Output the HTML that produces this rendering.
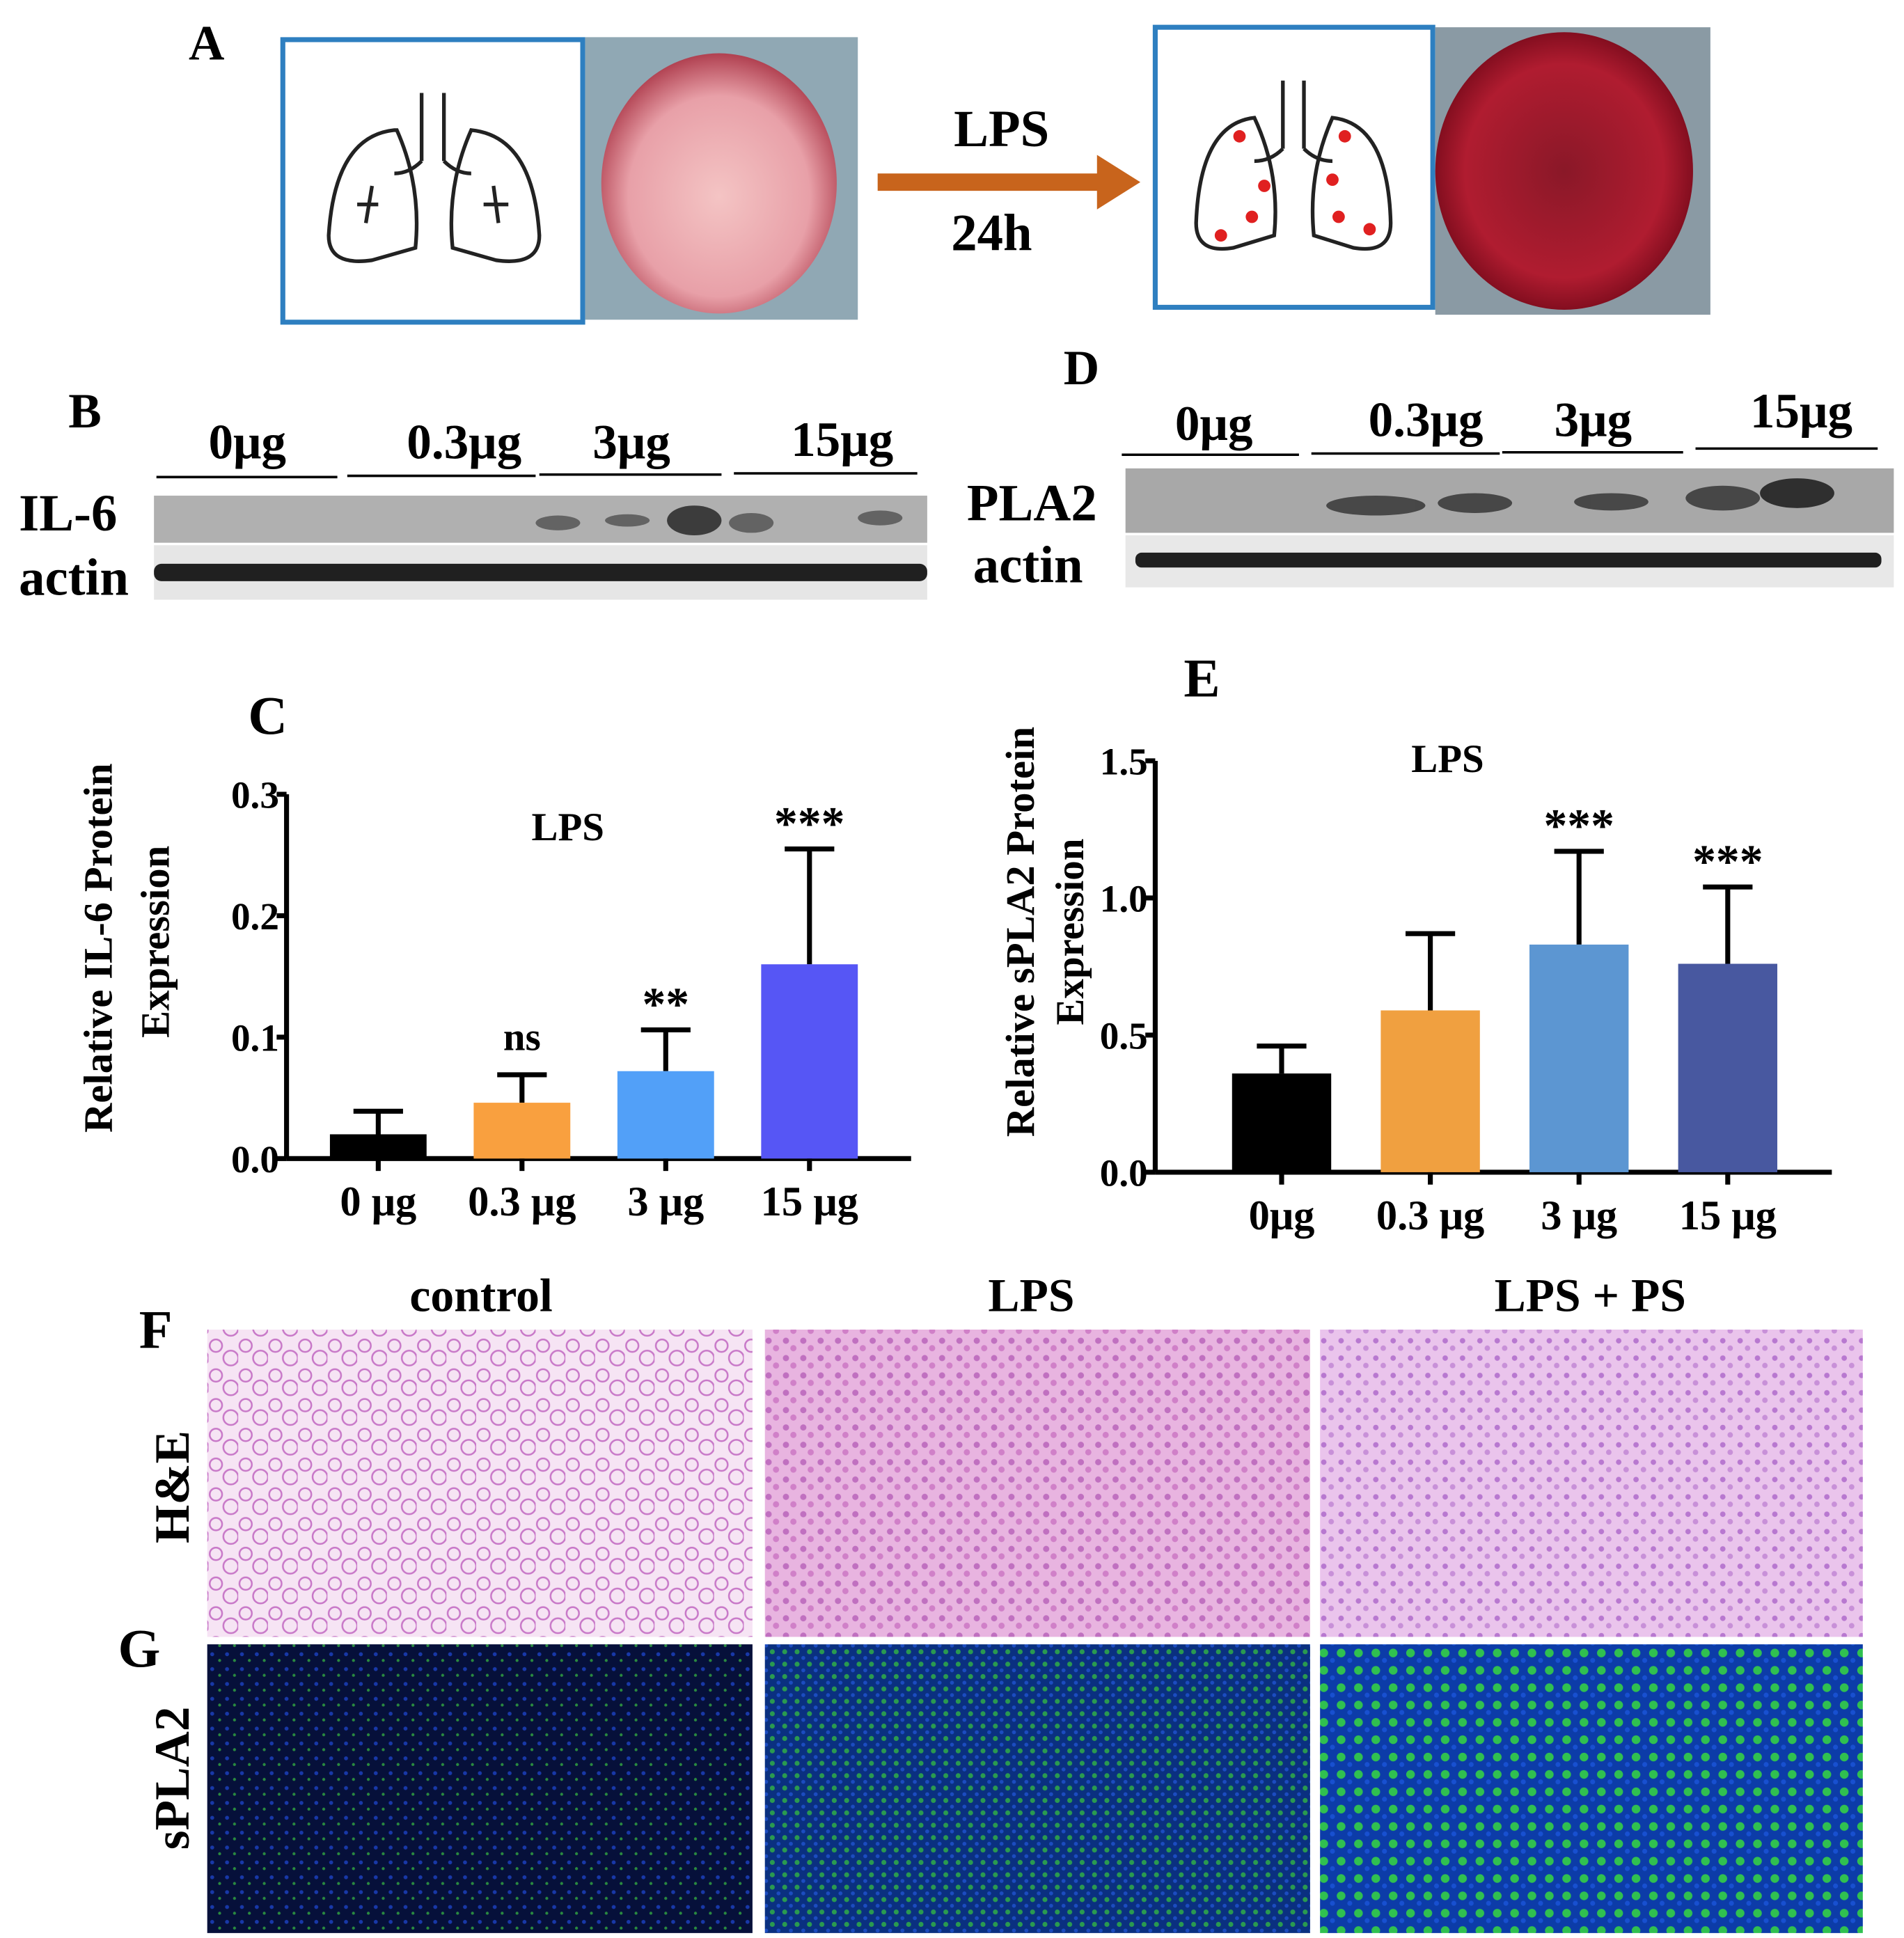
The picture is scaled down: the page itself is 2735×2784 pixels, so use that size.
<!DOCTYPE html>
<html><head><meta charset="utf-8"><style>
html,body{margin:0;padding:0;background:#fff;}
svg{display:block;}
svg text{font-family:"Liberation Serif","DejaVu Serif",serif;font-weight:bold;}
</style></head><body>
<svg id="fig" width="2735" height="2784" viewBox="0 0 1536 1564" xmlns="http://www.w3.org/2000/svg">
<defs>
<radialGradient id="lung1" cx="50%" cy="55%" r="55%"><stop offset="0" stop-color="#f4c4c4"/><stop offset="0.7" stop-color="#e8a0a8"/><stop offset="1" stop-color="#b04050"/></radialGradient>
<radialGradient id="lung2" cx="50%" cy="50%" r="55%"><stop offset="0" stop-color="#8a1828"/><stop offset="0.7" stop-color="#b01c30"/><stop offset="1" stop-color="#700818"/></radialGradient>
<pattern id="he1" width="24" height="24" patternUnits="userSpaceOnUse"><rect width="24" height="24" fill="#f6e4f4"/><circle cx="6" cy="6" r="5" fill="none" stroke="#c878c8" stroke-width="1.4"/><circle cx="18" cy="16" r="6" fill="none" stroke="#c878c8" stroke-width="1.4"/></pattern>
<pattern id="he2" width="14" height="14" patternUnits="userSpaceOnUse"><rect width="14" height="14" fill="#e8b4e0"/><circle cx="4" cy="4" r="2.5" fill="#c070c0"/><circle cx="10" cy="10" r="2.5" fill="#d080c8"/></pattern>
<pattern id="he3" width="14" height="14" patternUnits="userSpaceOnUse"><rect width="14" height="14" fill="#eac4ec"/><circle cx="4" cy="4" r="2.2" fill="#b878d0"/><circle cx="10" cy="10" r="2.2" fill="#c890d8"/></pattern>
<pattern id="fl1" width="12" height="12" patternUnits="userSpaceOnUse"><rect width="12" height="12" fill="#06103a"/><circle cx="3" cy="3" r="1.6" fill="#1838a8"/><circle cx="9" cy="8" r="1.2" fill="#2a8a40"/></pattern>
<pattern id="fl2" width="10" height="10" patternUnits="userSpaceOnUse"><rect width="10" height="10" fill="#0a3080"/><circle cx="3" cy="3" r="2" fill="#2a9a50"/><circle cx="8" cy="8" r="1.6" fill="#1c4cc0"/></pattern>
<pattern id="fl3" width="14" height="14" patternUnits="userSpaceOnUse"><rect width="14" height="14" fill="#0c3ca8"/><circle cx="4" cy="4" r="3.5" fill="#30c050"/><circle cx="11" cy="10" r="2" fill="#1850d0"/></pattern>
</defs>

<!-- Panel A -->
<text x="152" y="48" font-size="40">A</text>
<rect x="228" y="32" width="242" height="228" fill="#fff" stroke="#2e7fc0" stroke-width="4"/>
<g fill="none" stroke="#222" stroke-width="3">
<path d="M340 75 V130 M358 75 V130 M340 130 Q330 140 318 140 M358 130 Q368 140 380 140"/>
<path d="M318 105 Q270 110 265 190 Q265 215 300 210 L335 200 Q340 150 320 105Z"/>
<path d="M380 105 Q430 110 435 190 Q435 215 400 210 L365 200 Q360 150 380 105Z"/>
<path d="M300 150 L295 180 M288 165 L305 165 M398 150 L402 180 M390 165 L410 165"/>
</g>
<rect x="472" y="30" width="220" height="228" fill="#90a8b4"/>
<ellipse cx="580" cy="148" rx="95" ry="105" fill="url(#lung1)"/>
<rect x="708" y="140" width="180" height="14" fill="#c8641c"/>
<polygon points="885,125 920,147 885,169" fill="#c8641c"/>
<text x="808" y="118" font-size="42" text-anchor="middle">LPS</text>
<text x="800" y="202" font-size="42" text-anchor="middle">24h</text>
<rect x="932" y="22" width="224" height="226" fill="#fff" stroke="#2e7fc0" stroke-width="4"/>
<g fill="none" stroke="#222" stroke-width="3">
<path d="M1035 65 V120 M1052 65 V120 M1035 120 Q1025 130 1012 130 M1052 120 Q1062 130 1075 130"/>
<path d="M1012 95 Q968 100 965 180 Q965 205 995 200 L1028 190 Q1033 140 1012 95Z"/>
<path d="M1075 95 Q1120 100 1122 180 Q1122 205 1092 200 L1060 190 Q1055 140 1075 95Z"/>
</g>
<g fill="#e02020">
<circle cx="1000" cy="110" r="5"/><circle cx="1020" cy="150" r="5"/><circle cx="985" cy="190" r="5"/><circle cx="1085" cy="110" r="5"/><circle cx="1075" cy="145" r="5"/><circle cx="1080" cy="175" r="5"/><circle cx="1105" cy="185" r="5"/><circle cx="1010" cy="175" r="5"/>
</g>
<rect x="1158" y="22" width="222" height="232" fill="#8a9aa4"/>
<ellipse cx="1262" cy="138" rx="104" ry="112" fill="url(#lung2)"/>

<!-- Panel B -->
<text x="55" y="345" font-size="40">B</text>
<g font-size="40">
<text x="168" y="370">0μg</text><text x="328" y="370">0.3μg</text><text x="478" y="370">3μg</text><text x="638" y="368">15μg</text>
</g>
<g stroke="#000" stroke-width="2">
<line x1="126" y1="385" x2="272" y2="385"/><line x1="280" y1="384" x2="432" y2="384"/><line x1="435" y1="383" x2="582" y2="383"/><line x1="592" y1="382" x2="740" y2="382"/>
</g>
<text x="15" y="428" font-size="42">IL-6</text>
<text x="15" y="480" font-size="42">actin</text>
<rect x="124" y="400" width="624" height="38" fill="#b0b0b0"/>
<g fill="#505050" opacity="0.8">
<ellipse cx="450" cy="422" rx="18" ry="6"/><ellipse cx="506" cy="420" rx="18" ry="5"/><ellipse cx="560" cy="420" rx="22" ry="12" fill="#202020"/><ellipse cx="606" cy="422" rx="18" ry="8"/><ellipse cx="710" cy="418" rx="18" ry="6"/>
</g>
<rect x="124" y="440" width="624" height="44" fill="#e6e6e6"/>
<rect x="124" y="455" width="624" height="14" rx="6" fill="#202020"/>

<!-- Panel D -->
<text x="858" y="310" font-size="40">D</text>
<g font-size="40">
<text x="948" y="355">0μg</text><text x="1104" y="352">0.3μg</text><text x="1254" y="352">3μg</text><text x="1412" y="345">15μg</text>
</g>
<g stroke="#000" stroke-width="2">
<line x1="905" y1="367" x2="1048" y2="367"/><line x1="1058" y1="366" x2="1210" y2="366"/><line x1="1212" y1="365" x2="1358" y2="365"/><line x1="1368" y1="362" x2="1515" y2="362"/>
</g>
<text x="780" y="420" font-size="42">PLA2</text>
<text x="785" y="470" font-size="42">actin</text>
<rect x="908" y="378" width="620" height="52" fill="#a8a8a8"/>
<g fill="#303030" opacity="0.8">
<ellipse cx="1110" cy="408" rx="40" ry="8"/><ellipse cx="1190" cy="406" rx="30" ry="8"/><ellipse cx="1300" cy="405" rx="30" ry="7"/><ellipse cx="1390" cy="402" rx="30" ry="10"/><ellipse cx="1450" cy="398" rx="30" ry="12" fill="#101010"/>
</g>
<rect x="908" y="432" width="620" height="42" fill="#e8e8e8"/>
<rect x="916" y="446" width="602" height="12" rx="5" fill="#202020"/>

<!-- Charts -->
<g id="chartC"></g>
<g id="chartE"></g>

<!-- Panel F/G -->
<text x="112" y="1088" font-size="44">F</text>
<text x="95" y="1345" font-size="44">G</text>
<text x="388" y="1058" font-size="38" text-anchor="middle">control</text>
<text x="832" y="1058" font-size="38" text-anchor="middle">LPS</text>
<text x="1283" y="1058" font-size="38" text-anchor="middle">LPS + PS</text>
<text transform="translate(152,1200) rotate(-90)" font-size="40" text-anchor="middle">H&amp;E</text>
<text transform="translate(152,1435) rotate(-90)" font-size="40" text-anchor="middle">sPLA2</text>
<rect x="167" y="1073" width="440" height="248" fill="url(#he1)"/>
<rect x="617" y="1073" width="440" height="248" fill="url(#he2)"/>
<rect x="1065" y="1073" width="438" height="248" fill="url(#he3)"/>
<rect x="167" y="1327" width="440" height="233" fill="url(#fl1)"/>
<rect x="617" y="1327" width="440" height="233" fill="url(#fl2)"/>
<rect x="1065" y="1327" width="438" height="233" fill="url(#fl3)"/>
</svg>
<script>
const NS="http://www.w3.org/2000/svg";
const cCats=["0 μg","0.3 μg","3 μg","15 μg"];
const cVals=[0.02,0.046,0.072,0.16];
const cErr=[0.019,0.023,0.034,0.095];
const cSig=["","ns","**","***"];
const cTicks=[0.0,0.1,0.2,0.3];
const cColors=["#000000","#F9A03F","#52A0F8","#5656F5"];
const eCats=["0μg","0.3 μg","3 μg","15 μg"];
const eVals=[0.36,0.59,0.83,0.76];
const eErr=[0.10,0.28,0.34,0.28];
const eSig=["","","***","***"];
const eTicks=[0.0,0.5,1.0,1.5];
const eColors=["#000000","#F0A040","#5C96D2","#4858A0"];

function mk(parent,tag,attrs,text){const e=document.createElementNS(NS,tag);for(const k in attrs)e.setAttribute(k,attrs[k]);if(text!==undefined)e.textContent=text;parent.appendChild(e);return e;}

function chart(g,o){
  const y=v=>o.y0-(v-o.min)/(o.max-o.min)*(o.y0-o.y1);
  const x=i=>o.xs+i*o.step;
  const yax=mk(g,'line',{x1:o.ax,y1:o.y1,x2:o.ax,y2:o.y0,stroke:'#000','stroke-width':4});
  
  
  const xax=mk(g,'line',{x1:o.ax,y1:o.y0,x2:o.axEnd,y2:o.y0,stroke:'#000','stroke-width':4});
  
  
  o.ticks.forEach(t=>{
    const tk=mk(g,'line',{x1:o.ax-8,y1:y(t),x2:o.ax,y2:y(t),stroke:'#000','stroke-width':4});
    
    
    const tl=mk(g,'text',{x:o.ax-6,y:y(t)+11,'font-size':31,'text-anchor':'end'},t.toFixed(1));
    
    
  });
  o.vals.forEach((v,i)=>{
    const cx=x(i),top=y(v+o.err[i]);
    const eb=mk(g,'path',{d:`M${cx} ${y(v)} V${top} M${cx-20} ${top} H${cx+20}`,stroke:'#000','stroke-width':4,fill:'none'});
    
    
    const b=mk(g,'rect',{x:cx-o.bw/2,y:y(v),width:o.bw,height:o.y0-y(v),fill:o.colors[i]});
    
    
    const tk=mk(g,'line',{x1:cx,y1:o.y0,x2:cx,y2:o.y0+10,stroke:'#000','stroke-width':4});
    
    
    const xl=mk(g,'text',{x:cx,y:o.y0+46,'font-size':34,'text-anchor':'middle'},o.cats[i]);
    
    
    if(o.sig[i]){
      const s=mk(g,'text',{x:cx,y:top-(o.sig[i]==='ns'?20:8),'font-size':o.sig[i]==='ns'?32:38,'text-anchor':'middle'},o.sig[i]);
      
      
    }
  });
}
const gC=document.getElementById('chartC');
chart(gC,{ax:231,axEnd:735,y0:935,y1:641,min:0,max:0.3,xs:305,step:116,bw:78,cats:cCats,vals:cVals,err:cErr,sig:cSig,ticks:cTicks,colors:cColors});
const gE=document.getElementById('chartE');
chart(gE,{ax:932,axEnd:1478,y0:946,y1:614,min:0,max:1.5,xs:1034,step:120,bw:80,cats:eCats,vals:eVals,err:eErr,sig:eSig,ticks:eTicks,colors:eColors});

function lbl(txt,attrs,name){const t=mk(document.getElementById('fig'),'text',attrs,txt);}
lbl('C',{x:200,y:592,'font-size':44},'panel-label-c');
lbl('LPS',{x:458,y:678,'font-size':32,'text-anchor':'middle'},'chart-c-title');
lbl('Relative IL-6 Protein',{transform:'translate(90,765) rotate(-90)','font-size':33,'text-anchor':'middle'},'chart-c-y-title-1');
lbl('Expression',{transform:'translate(136,760) rotate(-90)','font-size':33,'text-anchor':'middle'},'chart-c-y-title-2');
lbl('E',{x:955,y:562,'font-size':44},'panel-label-e');
lbl('LPS',{x:1168,y:623,'font-size':32,'text-anchor':'middle'},'chart-e-title');
lbl('Relative sPLA2 Protein',{transform:'translate(834,752) rotate(-90)','font-size':33,'text-anchor':'middle'},'chart-e-y-title-1');
lbl('Expression',{transform:'translate(874,752) rotate(-90)','font-size':32,'text-anchor':'middle'},'chart-e-y-title-2');
</script>
</body></html>
